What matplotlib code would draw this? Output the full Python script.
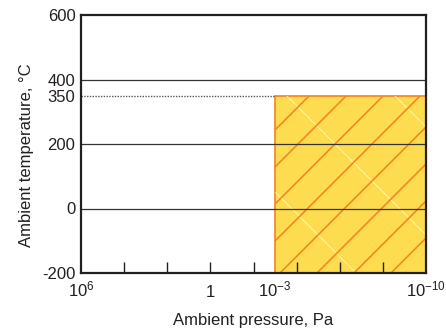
import numpy as np
import matplotlib
matplotlib.use("Agg")
import matplotlib.pyplot as plt
from matplotlib.patches import Rectangle
from matplotlib.lines import Line2D
from matplotlib.transforms import IdentityTransform
from matplotlib.ticker import NullFormatter

plt.rcParams['font.family'] = ['Liberation Sans', 'DejaVu Sans']
plt.rcParams['mathtext.fontset'] = 'custom'
plt.rcParams['mathtext.rm'] = 'Liberation Sans'
plt.rcParams['mathtext.it'] = 'Liberation Sans'
plt.rcParams['mathtext.default'] = 'regular'

# data
x_limits = [1e6, 1e-10]
y_limits = [-200, 600]
xtick_vals = [1e6, 1, 1e-3, 1e-10]
xtick_labels = ['$10^{6}$', '1', '$10^{\u22123}$', '$10^{\u221210}$']
xminor_vals = [1e4, 1e2, 1, 1e-2, 1e-4, 1e-6, 1e-8]
ytick_vals = [600, 400, 350, 200, 0, -200]
ytick_labels = ['600', '400', '350', '200', '0', '-200']
grid_temps = [400, 200, 0]
limit_temp = 350
region_pressure = [1e-3, 1e-10]
region_temp = [-200, 350]

W, H = 446, 333
fig = plt.figure(figsize=(W / 100, H / 100), dpi=100)
ax = fig.add_axes([81 / W, 60 / H, 345 / W, 258 / H])
ax.set_xscale('log')
ax.set_xlim(*x_limits)
ax.set_ylim(*y_limits)

fill = '#FDDC50'
orange = '#F58220'
dark = '#231F20'

rect = Rectangle((region_pressure[1], region_temp[0]),
                 region_pressure[0] - region_pressure[1],
                 region_temp[1] - region_temp[0],
                 facecolor=fill, edgecolor=orange, linewidth=1.2, zorder=1)
ax.add_patch(rect)

# hatch lines in display pixels, clipped to region
for c in np.arange(-2 - 37 * 20, 500, 37):
    ln = Line2D([0, W + H], [-c, W + H - c], transform=IdentityTransform(),
                color=orange, lw=1.1, zorder=1.5)
    ax.add_artist(ln)
    ln.set_clip_path(rect)
for c in np.arange(524 - 108 * 5, 524 + 108 * 6, 108):
    ln = Line2D([0, W + H], [c, c - (W + H)], transform=IdentityTransform(),
                color='white', lw=0.6, alpha=0.8, zorder=1.4)
    ax.add_artist(ln)
    ln.set_clip_path(rect)

for t in grid_temps:
    ax.axhline(t, color='#333333', lw=0.9, zorder=2)
ax.plot([x_limits[0], region_pressure[0]], [limit_temp, limit_temp],
        color='#555555', lw=1.0, ls=(0, (1, 1)), zorder=2)

ax.xaxis.remove_overlapping_locs = False
ax.set_xticks(xtick_vals)
ax.set_xticklabels(xtick_labels)
ax.set_xticks(xminor_vals, minor=True)
ax.xaxis.set_minor_formatter(NullFormatter())
ax.tick_params(axis='x', which='minor', direction='in', length=8, width=1, color=dark)
ax.tick_params(axis='x', which='major', length=0, pad=17, labelsize=12, labelcolor=dark)
for lbl in ax.get_xticklabels():
    lbl.set_va('baseline')
ax.set_yticks(ytick_vals)
ax.set_yticklabels(ytick_labels)
ax.tick_params(axis='y', length=0, pad=4, labelsize=12, labelcolor=dark)

for s in ax.spines.values():
    s.set_linewidth(1.6)
    s.set_color(dark)
    s.set_zorder(3)

ax.set_xlabel('Ambient pressure, Pa', fontsize=12, color=dark)
ax.xaxis.set_label_coords(0.5, -47 / 258, transform=ax.transAxes)
ax.set_ylabel('Ambient temperature, \u00b0C', fontsize=12, color=dark)
ax.yaxis.set_label_coords(-55 / 345, (273 - 155) / 258, transform=ax.transAxes)
ax.yaxis.label.set_va('center')
ax.xaxis.label.set_va('center')

fig.savefig('out.png', dpi=100)
